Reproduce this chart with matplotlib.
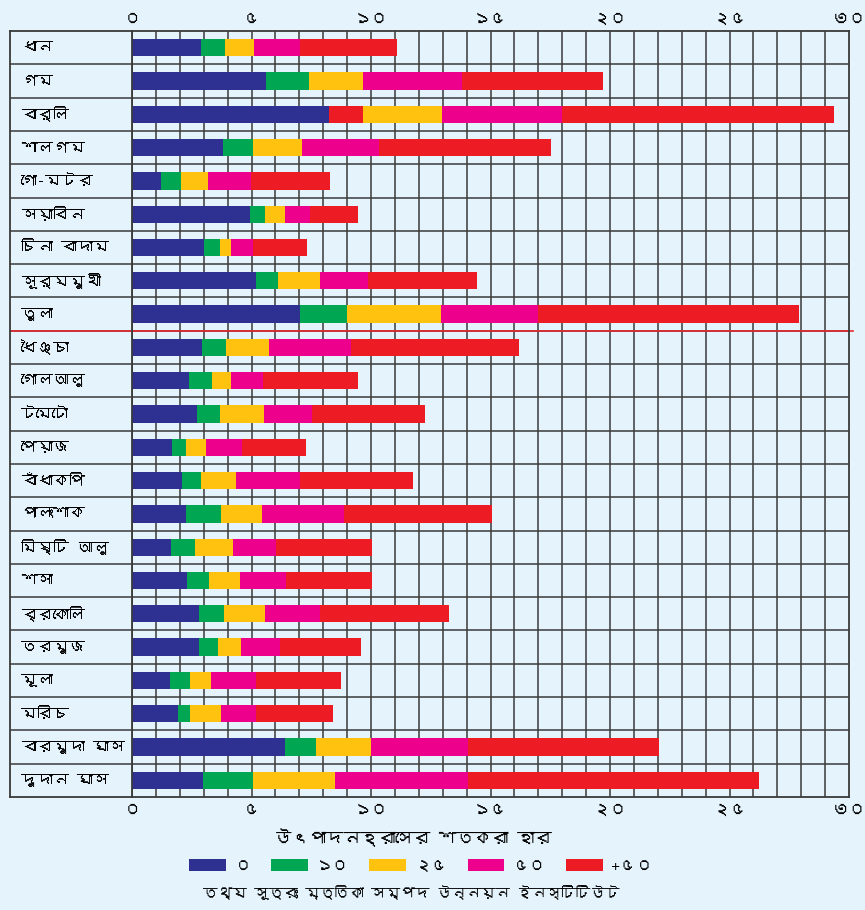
import numpy as np
import matplotlib
matplotlib.use('Agg')
import matplotlib.pyplot as plt
from matplotlib import font_manager
from matplotlib.patches import Patch
from matplotlib.ft2font import FT2Font

# crop names, top to bottom
crops = ['ধান', 'গম', 'বার্লি', 'শালগম', 'গো-মটর', 'সয়াবিন', 'চিনা বাদাম',
         'সূর্যমুখী', 'তুলা', 'ধৈঞ্চা', 'গোলআলু', 'টমেটো', 'পেয়াজ', 'বাঁধাকপি',
         'পালংশাক', 'মিষ্টি আলু', 'শসা', 'ব্রকোলি', 'তরমুজ', 'মূলা', 'মরিচ',
         'বারমুদা ঘাস', 'দুদান ঘাস']

# cumulative segment ends (percent yield loss) for 0, 10, 25, 50, +50
loss_0 = [2.89, 5.61, 8.24, 3.81, 1.21, 4.94, 3.01, 5.19, 7.03, 2.93, 2.38, 2.72,
          1.67, 2.09, 2.26, 1.63, 2.30, 2.80, 2.80, 1.59, 1.92, 6.40, 2.97]
loss_10 = [3.89, 7.41, 9.67, 5.06, 2.05, 5.56, 3.68, 6.11, 9.00, 3.93, 3.35, 3.68,
           2.26, 2.89, 3.72, 2.64, 3.22, 3.85, 3.60, 2.43, 2.43, 7.70, 5.06]
loss_25 = [5.10, 9.67, 12.97, 7.11, 3.18, 6.40, 4.14, 7.87, 12.93, 5.73, 4.14, 5.52,
           3.10, 4.35, 5.44, 4.23, 4.52, 5.56, 4.56, 3.31, 3.72, 10.00, 8.49]
loss_50 = [7.03, 13.81, 17.99, 10.33, 4.98, 7.45, 5.06, 9.87, 16.99, 9.16, 5.48, 7.53,
           4.60, 7.03, 8.87, 6.03, 6.44, 7.87, 6.19, 5.19, 5.19, 14.06, 14.06]
loss_over50 = [11.09, 19.71, 29.37, 17.53, 8.28, 9.46, 7.32, 14.44, 27.91, 16.19, 9.46,
               12.26, 7.28, 11.76, 15.06, 10.04, 10.04, 13.26, 9.58, 8.74, 8.41, 22.05, 26.23]

legend_labels = ['০', '১০', '২৫', '৫০', '+৫০']
tick_values = [0, 5, 10, 15, 20, 25, 30]
tick_labels = ['০', '৫', '১০', '১৫', '২০', '২৫', '৩০']

bg = '#e5f4fc'
colors = ['#2e3192', '#00a651', '#ffc20e', '#ec008c', '#ed1c24']
grid_c = '#3a3a3a'


def find_bengali_font():
    seen = set()
    for f in font_manager.fontManager.ttflist:
        if f.fname in seen:
            continue
        seen.add(f.fname)
        try:
            cmap = FT2Font(f.fname).get_charmap()
        except Exception:
            continue
        if 0x0995 in cmap and 0x09E6 in cmap:
            return f.name
    return None


beng = find_bengali_font()
families = ([beng] if beng else []) + ['DejaVu Sans']
plt.rcParams['font.family'] = families

fig = plt.figure(figsize=(8.65, 9.1), dpi=100, facecolor=bg)
W, H = 865, 910
ax = fig.add_axes([132 / W, 1 - 797 / H, 717 / W, 766 / H])
lab = fig.add_axes([10 / W, 1 - 797 / H, 122 / W, 766 / H])
for a in (ax, lab):
    a.set_facecolor(bg)
    a.set_ylim(len(crops) - 0.5, -0.5)
    for s in a.spines.values():
        s.set_color(grid_c)
        s.set_linewidth(1.3)

ends = np.column_stack([loss_0, loss_10, loss_25, loss_50, loss_over50])
starts = np.hstack([np.zeros((len(crops), 1)), ends[:, :-1]])
y = np.arange(len(crops))

# barley's second segment is printed red in the source
seg_colors = [[colors[j] for j in range(5)] for _ in crops]
seg_colors[crops.index('বার্লি')][1] = colors[4]

for j in range(5):
    ax.barh(y, ends[:, j] - starts[:, j], left=starts[:, j], height=0.52,
            color=[c[j] for c in seg_colors], zorder=3)

ax.set_xlim(0, 30)
for v in range(1, 30):
    ax.axvline(v, color=grid_c, lw=1.1, zorder=1)
for k in range(len(crops) - 1):
    ax.axhline(k + 0.5, color=grid_c, lw=1.1, zorder=1)
    lab.axhline(k + 0.5, color=grid_c, lw=1.1, zorder=1)

# red separator after cotton
sep = crops.index('তুলা') + 0.5
ax.axhline(sep, color='#e8282e', lw=1.2, zorder=2, clip_on=False, xmax=1.005)
lab.axhline(sep, color='#e8282e', lw=1.2, zorder=2)

ax.set_xticks(tick_values)
ax.set_xticklabels(tick_labels, fontsize=12.5)
ax.tick_params(axis='x', top=True, labeltop=True, length=0, pad=4)
ax.set_yticks([])

lab.set_xticks([])
lab.set_yticks([])
lab.set_xlim(0, 1)
for i, name in enumerate(crops):
    lab.text(0.09, i, name, fontsize=11.5, va='center', ha='left')

fig.text(413 / W, 1 - 838 / H, 'উৎপাদনহ্রাসের শতকরা হার', fontsize=12.5,
         ha='center', va='center')

handles = [Patch(facecolor=c) for c in colors]
fig.legend(handles, legend_labels, loc='center', bbox_to_anchor=(421 / W, 1 - 866 / H),
           ncol=5, frameon=False, fontsize=12, handlelength=2.2, handleheight=0.7,
           handletextpad=0.5, columnspacing=1.2)

fig.text(411 / W, 1 - 893 / H, 'তথ্য সূত্রঃ মৃত্তিকা সম্পদ উন্নয়ন ইনস্টিটিউট',
         fontsize=10.5, ha='center', va='center')

fig.savefig('out.png', dpi=100, facecolor=bg)
